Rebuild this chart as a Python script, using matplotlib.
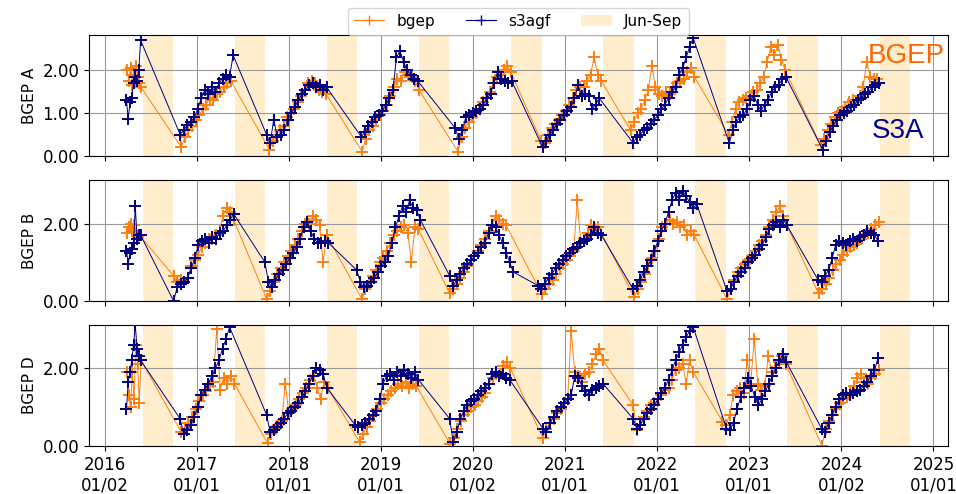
import pandas as pd
import matplotlib
matplotlib.use("Agg")
import matplotlib.pyplot as plt
import matplotlib.dates as mdates
from matplotlib.patches import Patch
from matplotlib.lines import Line2D

plt.rcParams["font.family"] = ["DejaVu Sans"]

# 每季一段：(起始日, 間隔天數, 讀圖估計值)
A_BGEP = [
    ("2016-03-30", 7, [2.0, 1.75, 2.05, 1.65, 1.9, 2.1, 1.85, 1.7, 1.6]),
    ("2016-11-01", 14, [0.2, 0.45, 0.6, 0.7, 0.85, 0.95, 1.1, 1.2, 1.35, 1.3, 1.45, 1.5, 1.6, 1.7, 1.75]),
    ("2017-10-16", 14, [0.15, 0.35, 0.5, 0.6, 0.7, 0.9, 1.0, 1.1, 1.25, 1.4, 1.55, 1.7, 1.75, 1.7, 1.55, 1.5, 1.45]),
    ("2018-10-19", 14, [0.1, 0.4, 0.6, 0.7, 0.85, 0.95, 1.05, 1.2, 1.4, 1.6, 1.8, 1.75, 1.95, 1.9, 1.85, 1.75, 1.55]),
    ("2019-11-03", 14, [0.1, 0.45, 0.65, 0.8, 0.9, 1.0, 1.1, 1.25, 1.35, 1.5, 1.7, 1.85, 1.9, 2.0, 2.1, 1.95]),
    ("2020-09-28", 14, [0.35, 0.3, 0.5, 0.65, 0.75, 0.85, 0.95, 1.05, 1.2, 1.35, 1.55, 1.6, 1.6, 1.75, 1.9, 2.3, 1.9, 1.75]),
    ("2021-09-18", 14, [0.6, 0.8, 1.0, 1.1, 1.3, 1.55, 2.1, 1.6, 1.45, 1.4, 1.5, 1.45, 1.6, 1.7, 1.75, 1.8, 1.95, 2.05, 1.85]),
    ("2022-10-11", 14, [0.5, 0.8, 1.1, 1.25, 1.3, 1.35, 1.4, 1.5, 1.55, 1.7, 1.85, 2.2, 2.55, 2.35, 2.6, 2.25, 2.0]),
    ("2023-10-12", 14, [0.25, 0.4, 0.6, 0.75, 0.9, 1.0, 1.05, 1.15, 1.25, 1.3, 1.25, 1.4, 1.6, 2.2, 1.85, 1.8, 1.8]),
]
A_S3 = [
    ("2016-03-28", 7, [1.3, 0.87, 1.25, 1.35, 1.7, 1.85, 1.75, 2.0, 2.7]),
    ("2016-10-27", 14, [0.5, 0.6, 0.72, 0.8, 0.9, 1.1, 1.35, 1.55, 1.45, 1.6, 1.5, 1.7, 1.8, 1.9, 1.85, 2.35]),
    ("2017-10-05", 14, [0.5, 0.3, 0.85, 0.45, 0.5, 0.6, 0.85, 1.0, 1.15, 1.3, 1.45, 1.55, 1.65, 1.7, 1.6, 1.65, 1.55, 1.6]),
    ("2018-10-15", 14, [0.45, 0.55, 0.7, 0.8, 0.9, 0.95, 1.05, 1.2, 1.35, 1.55, 2.3, 2.45, 2.2, 2.0, 1.9, 1.8, 1.75]),
    ("2019-10-23", 14, [0.65, 0.4, 0.6, 0.9, 0.95, 1.0, 1.05, 1.1, 1.2, 1.35, 1.45, 1.7, 1.95, 1.8, 1.75, 1.7, 1.75]),
    ("2020-10-04", 14, [0.2, 0.35, 0.5, 0.6, 0.75, 0.85, 0.95, 1.05, 1.15, 1.35, 1.65, 1.4, 1.45, 1.4, 1.1, 1.2, 1.35]),
    ("2021-09-28", 14, [0.3, 0.45, 0.5, 0.6, 0.65, 0.75, 0.85, 0.95, 1.1, 1.2, 1.35, 1.5, 1.6, 1.9, 2.05, 2.3, 2.55, 2.75]),
    ("2022-10-14", 14, [0.3, 0.6, 0.8, 0.9, 0.95, 1.1, 1.3, 1.4, 1.2, 1.05, 1.2, 1.3, 1.5, 1.6, 1.65, 1.8, 1.85]),
    ("2023-10-19", 14, [0.15, 0.35, 0.55, 0.7, 0.85, 0.95, 1.0, 1.05, 1.15, 1.2, 1.3, 1.35, 1.45, 1.5, 1.6, 1.65, 1.7]),
]

B_BGEP = [
    ("2016-03-30", 7, [1.75, 1.9, 2.0, 1.8, 1.95, 1.75, 1.65, 1.7]),
    ("2016-10-01", 14, [0.65, 0.5, 0.55, 0.5, 0.6, 0.9, 1.05, 1.2, 1.4, 1.5, 1.6, 1.6, 1.7, 1.8, 2.2, 2.4, 2.3, 2.1]),
    ("2017-10-05", 14, [0.05, 0.25, 0.5, 0.7, 0.85, 1.0, 1.15, 1.3, 1.45, 1.6, 1.8, 2.0, 2.0, 2.2, 2.1, 1.95, 1.0, 1.7]),
    ("2018-10-18", 14, [0.05, 0.3, 0.5, 0.65, 0.8, 1.0, 1.1, 1.3, 1.5, 1.7, 1.8, 1.9, 1.95, 1.75, 1.0, 1.9, 1.85]),
    ("2019-10-01", 14, [0.2, 0.3, 0.45, 0.6, 0.75, 0.9, 1.05, 1.15, 1.3, 1.45, 1.6, 1.8, 1.95, 2.2, 2.1, 2.0, 1.95]),
    ("2020-10-01", 14, [0.17, 0.3, 0.45, 0.55, 0.7, 0.85, 0.95, 1.05, 1.15, 1.3, 2.6, 1.5, 1.6, 1.75, 1.95, 1.85, 1.9]),
    ("2021-10-02", 14, [0.1, 0.3, 0.5, 0.7, 0.9, 1.1, 1.3, 1.6, 1.9, 2.0, 2.1, 2.0, 2.05, 1.9, 1.95, 1.7, 1.8, 1.7]),
    ("2022-10-05", 14, [0.05, 0.3, 0.55, 0.75, 0.85, 0.95, 1.05, 1.15, 1.3, 1.45, 1.55, 1.7, 1.9, 2.1, 2.3, 2.45, 2.2, 1.95]),
    ("2023-10-03", 14, [0.2, 0.3, 0.45, 0.6, 0.8, 0.95, 1.05, 1.2, 1.3, 1.4, 1.45, 1.5, 1.6, 1.7, 1.75, 1.85, 1.95, 2.05]),
]
B_S3 = [
    ("2016-03-28", 7, [1.3, 0.95, 1.25, 1.35, 1.5, 2.45, 1.6, 1.7, 1.7]),
    ("2016-10-01", 14, [0.0, 0.35, 0.45, 0.5, 0.6, 0.85, 1.1, 1.45, 1.55, 1.6, 1.5, 1.65, 1.6, 1.75, 1.8, 1.95, 2.1, 2.25]),
    ("2017-09-28", 14, [1.0, 0.5, 0.35, 0.55, 0.7, 0.8, 0.95, 1.1, 1.25, 1.4, 1.6, 1.9, 2.05, 1.8, 1.6, 1.5, 1.5, 1.55, 1.5]),
    ("2018-09-27", 14, [0.8, 0.5, 0.35, 0.4, 0.5, 0.6, 0.75, 0.9, 1.0, 1.15, 1.5, 1.9, 2.2, 2.45, 2.3, 2.6, 2.4, 2.35, 2.1]),
    ("2019-10-01", 14, [0.65, 0.4, 0.55, 0.7, 0.85, 0.95, 1.05, 1.15, 1.25, 1.4, 1.5, 1.75, 1.95, 1.9, 1.7, 1.5, 1.25, 1.0, 0.75]),
    ("2020-09-15", 14, [0.4, 0.3, 0.45, 0.6, 0.7, 0.85, 0.95, 1.05, 1.15, 1.25, 1.35, 1.4, 1.5, 1.55, 1.6, 1.7, 1.9, 1.75, 1.7]),
    ("2021-09-28", 14, [0.3, 0.4, 0.55, 0.75, 0.9, 1.05, 1.3, 1.55, 1.8, 2.0, 2.3, 2.6, 2.8, 2.6, 2.85, 2.7, 2.55, 2.4, 2.5]),
    ("2022-10-05", 14, [0.26, 0.3, 0.5, 0.65, 0.75, 0.85, 1.0, 1.1, 1.2, 1.35, 1.45, 1.65, 1.85, 1.95, 2.05, 1.9, 2.1, 1.95]),
    ("2023-10-01", 14, [0.55, 0.5, 0.65, 0.8, 1.1, 1.45, 1.55, 1.5, 1.45, 1.55, 1.6, 1.55, 1.65, 1.7, 1.8, 1.75, 1.7, 1.55]),
]

D_BGEP = [
    ("2016-03-30", 7, [1.9, 1.3, 1.0, 1.9, 1.2, 2.6, 2.1, 1.1, 2.2]),
    ("2016-11-01", 14, [0.35, 0.45, 0.6, 0.75, 0.95, 1.15, 1.3, 1.4, 1.55, 1.65, 3.0, 1.45, 1.75, 1.6, 1.8, 1.6]),
    ("2017-10-09", 14, [0.07, 0.3, 0.45, 0.55, 0.65, 1.6, 0.85, 0.95, 1.05, 1.2, 1.35, 1.5, 1.7, 1.8, 1.5, 1.2, 1.65, 1.5]),
    ("2018-10-09", 14, [0.1, 0.3, 0.5, 0.65, 0.8, 0.95, 1.1, 1.2, 1.3, 1.4, 1.5, 1.6, 1.55, 1.65, 1.5, 1.6, 1.55]),
    ("2019-10-03", 14, [0.05, 0.2, 0.45, 0.65, 0.8, 0.9, 1.0, 1.05, 1.15, 1.25, 1.35, 1.6, 1.75, 1.85, 1.85, 2.05, 2.15, 2.0]),
    ("2020-10-05", 14, [0.2, 0.45, 0.6, 0.7, 0.85, 0.95, 1.1, 1.2, 2.95, 1.9, 1.8, 1.65, 1.85, 1.9, 2.1, 2.35, 2.5, 2.2]),
    ("2021-09-28", 14, [1.05, 0.4, 0.55, 0.75, 0.9, 1.05, 1.1, 1.2, 1.3, 1.45, 1.5, 1.7, 1.95, 2.0, 2.1, 1.6, 2.2, 1.9]),
    ("2022-09-17", 14, [0.63, 0.55, 0.8, 1.3, 1.4, 1.5, 1.35, 2.2, 1.6, 2.75, 1.6, 1.45, 1.55, 2.3, 1.9, 2.0, 2.15, 2.3, 2.1]),
    ("2023-10-17", 14, [0.0, 0.45, 0.65, 0.8, 0.95, 1.1, 1.2, 1.25, 1.35, 1.55, 1.75, 1.85, 1.65, 1.6, 1.75, 1.85, 1.95]),
]
D_S3 = [
    ("2016-03-28", 7, [0.95, 1.65, 1.9, 2.2, 2.6, 3.1, 2.5, 2.3, 2.2]),
    ("2016-10-27", 14, [0.7, 0.3, 0.4, 0.55, 0.75, 1.0, 1.3, 1.45, 1.6, 1.8, 2.0, 2.2, 2.5, 2.75, 3.05]),
    ("2017-10-05", 14, [0.8, 0.35, 0.4, 0.5, 0.6, 0.7, 0.85, 0.9, 1.0, 1.1, 1.25, 1.4, 1.6, 1.8, 2.0, 1.95, 1.85, 1.5]),
    ("2018-09-20", 14, [0.55, 0.5, 0.55, 0.6, 0.7, 0.8, 0.9, 1.2, 1.6, 1.8, 1.85, 1.7, 1.9, 1.8, 1.95, 1.85, 1.75, 1.9, 1.7]),
    ("2019-10-01", 14, [0.7, 0.1, 0.35, 0.7, 0.9, 1.05, 1.15, 1.2, 1.3, 1.4, 1.5, 1.6, 1.85, 1.9, 1.8, 1.85, 1.75, 1.7]),
    ("2020-10-05", 14, [0.45, 0.35, 0.6, 0.75, 0.9, 1.0, 1.1, 1.2, 1.3, 1.8, 1.75, 1.55, 1.4, 1.3, 1.45, 1.5, 1.55, 1.6]),
    ("2021-09-28", 14, [0.7, 0.45, 0.55, 0.7, 0.85, 0.95, 1.05, 1.2, 1.35, 1.5, 1.7, 1.95, 2.2, 2.4, 2.6, 2.8, 2.95, 3.05]),
    ("2022-10-03", 14, [0.45, 0.4, 0.6, 0.95, 1.25, 1.5, 1.75, 1.55, 1.25, 1.05, 1.2, 1.4, 1.6, 1.8, 2.0, 2.2, 2.35, 2.15]),
    ("2023-10-15", 14, [0.45, 0.35, 0.6, 0.8, 1.0, 1.2, 1.3, 1.35, 1.3, 1.35, 1.4, 1.45, 1.55, 1.65, 1.8, 1.95, 2.25]),
]

PANELS = ["BGEP A", "BGEP B", "BGEP D"]
YLIMS = [2.82, 3.12, 3.1]
YTICKS = [[0, 1, 2], [0, 2], [0, 2]]
XTICKS = ["2016-01-02", "2017-01-01", "2018-01-01", "2019-01-01", "2020-01-02",
          "2021-01-01", "2022-01-01", "2023-01-01", "2024-01-02", "2025-01-01"]
SUMMER_YEARS = list(range(2016, 2025))

BGEP_C = "#ff7f0e"
S3_C = "navy"
SPAN_C = "orange"
MK = dict(marker="+", lw=0.7, ms=8.5, mew=1.4)


def _series(segments):
    d, v = [], []
    for start, step, vals in segments:
        d.extend(pd.date_range(start, periods=len(vals), freq=f"{step}D"))
        v.extend(vals)
    return d, v


fig, axes = plt.subplots(3, 1, figsize=(9.56, 4.94), dpi=100, sharex=True)
fig.subplots_adjust(left=0.093, right=0.992, top=0.929, bottom=0.097, hspace=0.2)

for ax, name, bg, s3, ytop, yt in zip(axes, PANELS, [A_BGEP, B_BGEP, D_BGEP],
                                      [A_S3, B_S3, D_S3], YLIMS, YTICKS):
    for y in SUMMER_YEARS:
        ax.axvspan(mdates.date2num(pd.Timestamp(f"{y}-06-01")),
                   mdates.date2num(pd.Timestamp(f"{y}-09-30")),
                   color=SPAN_C, alpha=0.2, lw=0, zorder=0)
    d, v = _series(bg)
    ax.plot(d, v, color=BGEP_C, zorder=2, **MK)
    d, v = _series(s3)
    ax.plot(d, v, color=S3_C, zorder=3, **MK)
    ax.set_ylim(0, ytop)
    ax.set_yticks(yt)
    ax.yaxis.set_major_formatter(plt.FormatStrFormatter("%.2f"))
    ax.set_ylabel(name, fontsize=11)
    ax.grid(True, color="0.6", lw=0.8)
    ax.set_axisbelow(True)
    ax.tick_params(labelsize=12)

ax = axes[-1]
ax.set_xlim(mdates.date2num(pd.Timestamp("2015-10-31")),
            mdates.date2num(pd.Timestamp("2025-03-01")))
ax.set_xticks([mdates.date2num(pd.Timestamp(t)) for t in XTICKS])
ax.xaxis.set_major_formatter(mdates.DateFormatter("%Y\n%m/%d"))

handles = [
    Line2D([], [], color=BGEP_C, marker="+", lw=0.8, ms=7),
    Line2D([], [], color=S3_C, marker="+", lw=0.8, ms=7),
    Patch(facecolor=SPAN_C, alpha=0.2),
]
fig.legend(handles, ["bgep", "s3agf", "Jun-Sep"], loc="upper center",
           bbox_to_anchor=(0.542, 1.0), ncol=3, fontsize=11, frameon=True)

fig.text(0.908, 0.872, "BGEP", color="#ff6600", fontsize=20,
         family="Liberation Sans", va="baseline")
fig.text(0.912, 0.721, "S3A", color="#000099", fontsize=20,
         family="Liberation Sans", va="baseline")

fig.savefig("out.png", dpi=100)
